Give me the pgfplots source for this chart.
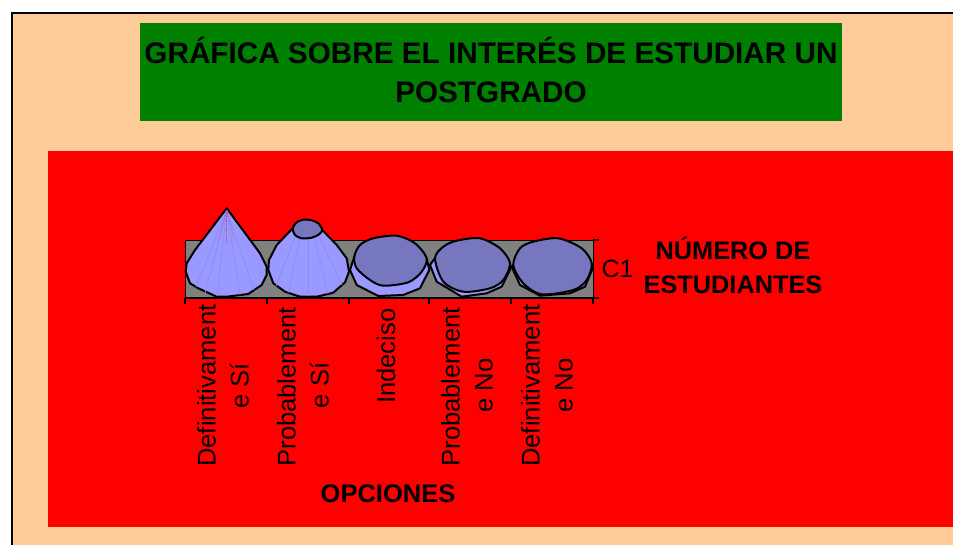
\documentclass[border=0pt]{standalone}
\usepackage{pgfplots}
\pgfplotsset{compat=1.18}
\usepackage{fontspec}
\setmainfont{Liberation Sans}
\definecolor{peach}{HTML}{FFCC99}
\definecolor{dkgreen}{HTML}{008000}
\definecolor{cone}{HTML}{9999FF}
\definecolor{conedk}{HTML}{8C8CF0}
\definecolor{conetop}{HTML}{7777BF}
\pgfplotsset{oval/.style={draw=black,line width=2pt,line join=round,smooth cycle,tension=0.5},
  shell/.style={fill=cone,draw=black,line width=2pt,line join=round}}
\begin{document}
\begin{tikzpicture}[x=1pt,y=-1pt]
\path[use as bounding box] (0,0) rectangle (953,545);
\fill[peach] (11.5,13.5) rectangle (953,545);
\draw[black,line width=2pt] (11.5,545) -- (11.5,13.5) -- (953,13.5);
\fill[dkgreen] (140,23) rectangle (842,121);
\fill[red] (48,151) rectangle (953,527);
\node[font=\bfseries\fontsize{29.7}{39}\selectfont,align=center,text=black] at (491,70)
  {GRÁFICA SOBRE EL INTERÉS DE ESTUDIAR UN\\POSTGRADO};
\node[font=\bfseries\fontsize{25.3}{34}\selectfont,align=center,text=black] at (733,265.5)
  {NÚMERO DE\\ESTUDIANTES};
\node[font=\bfseries\fontsize{25.5}{28}\selectfont,text=black] at (388,494) {OPCIONES};
\begin{axis}[
  at={(185pt,-298pt)},anchor=south west,
  scale only axis,width=408pt,height=58pt,
  xmin=185,xmax=593,ymin=0,ymax=58,
  clip=false,
  axis background/.style={fill=gray},
  axis line style={black,line width=0.8pt},
  tick style={black,line width=1.2pt},
  major tick length=6pt,
  tick align=outside,
  xtick pos=bottom,ytick pos=right,
  yticklabel pos=right,
  xtick={185,267,349,429,511,593},
  xticklabels={},
  ytick={0,58},yticklabels={},
  extra x ticks={223,303,386,467,547},
  extra x tick labels={{Definitivament\\e Sí},
    {\makebox[162pt][l]{Probablement}\\e Sí},
    {Indeciso\hspace{4pt}},
    {\makebox[162pt][l]{Probablement}\\e No},
    {Definitivament\\e No}},
  extra x tick style={major tick length=0pt,
    xticklabel style={rotate=90,anchor=east,align=center,
      font=\fontsize{25.6}{33}\selectfont,xshift=-3pt}},
  extra y ticks={29},
  extra y tick labels={C1},
  extra y tick style={major tick length=0pt,
    yticklabel style={font=\fontsize{25}{26}\selectfont,xshift=5pt}},
]
% bottom axis heavy line
\addplot[black,line width=1.6pt,forget plot] coordinates {(185,0) (593,0)};
% cone 1
\addplot[shell] coordinates {
 (226.7,89.7)(195,48)(186.7,34.7)(185.7,26.3)(190,14.7)(198.3,9.7)(216.7,1.3)(226.7,1.3)(248.3,4)(261.7,13)(266.7,23)(266.7,31.3)(260,44.7)} --cycle;
\addplot[conedk,line width=0.8pt] coordinates {(226.7,88)(205,5)};
\addplot[conedk,line width=0.8pt] coordinates {(226.7,88)(217,2)};
\addplot[conedk,line width=0.8pt] coordinates {(226.7,88)(196,11)};
\addplot[conedk,line width=0.8pt] coordinates {(226.7,88)(240,3)};
\addplot[conedk,line width=0.8pt] coordinates {(226.7,88)(254,8)};
\addplot[magenta!60!conedk,densely dotted,line width=0.6pt] coordinates {(226.7,88)(219,58)};
\addplot[magenta!60!conedk,densely dotted,line width=0.6pt] coordinates {(226.7,88)(226.7,55)};
\addplot[magenta!60!conedk,densely dotted,line width=0.6pt] coordinates {(226.7,88)(234,58)};
% cone 2
\addplot[shell] coordinates {
 (292.7,69.7)(276.7,53)(269,38)(268.3,28)(273.3,14.7)(285,6.3)(300,1.3)(316.7,1.3)(333.3,5.3)(345,15.7)(349,26.3)(346.7,39.7)(336.7,53)(322.3,68)} --cycle;
\addplot[conedk,line width=0.8pt] coordinates {(300,60)(288,5)};
\addplot[conedk,line width=0.8pt] coordinates {(296,63)(276,12)};
\addplot[conedk,line width=0.8pt] coordinates {(308,60)(308,2)};
\addplot[conedk,line width=0.8pt] coordinates {(314,61)(328,4)};
\addplot[conedk,line width=0.8pt] coordinates {(318,64)(342,13)};
\addplot[oval,fill=conetop] coordinates {
 (292.7,69.7)(296.7,75.7)(303.3,78.3)(311.7,77.7)(318.3,74.7)(322.3,68)(319,63.7)(311.7,60.3)(301.7,59.7)(295,63)};
% cone 3
\addplot[shell] coordinates {
 (354.3,41.3)(350,28)(356.7,13)(378.3,2)(403.3,3)(420,9.7)(429.3,28)(426.7,39.7)} --cycle;
\addplot[oval,fill=conetop] coordinates {
 (354.3,41.3)(360,53)(373.3,59.7)(396.7,62.3)(415,54.7)(426.7,39.7)(421.7,26.3)(408.3,15.7)(383.3,12.3)(370,18)(356.7,29.7)};
% cone 4
\addplot[shell] coordinates {
 (435,40)(430,33)(436.7,16.3)(461.7,1.3)(486.7,4.7)(501.7,11.3)(510.7,29.7)(510,35)} --cycle;
\addplot[oval,fill=conetop] coordinates {
 (435,39.7)(443.3,51.3)(456.7,57.3)(480,59.7)(500,49.7)(510,34.7)(503.3,18)(490,9.7)(463.3,6.3)(443.3,16.3)};
% cone 5
\addplot[shell] coordinates {
 (513,33)(511.7,31.3)(520,13)(540,2.3)(570,4.7)(585,11.3)(592.7,29.7)(591.7,34.7)} --cycle;
\addplot[oval,fill=conetop] coordinates {
 (513.3,33)(520,49.7)(533.3,56.3)(558.3,59.7)(581.7,49.7)(591.7,34.7)(586.7,18)(573.3,8)(541.7,3.7)(523.3,14.7)};
\end{axis}
\end{tikzpicture}
\end{document}
